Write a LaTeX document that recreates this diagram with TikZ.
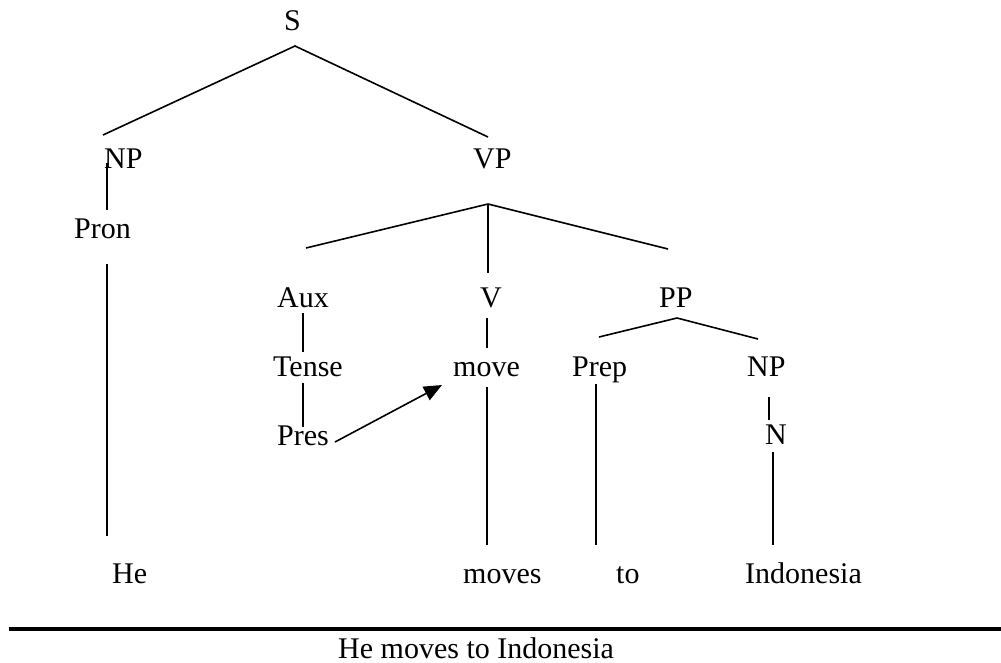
\documentclass[tikz,border=0pt]{standalone}
\usepackage{fontspec}
\setmainfont{Liberation Serif}
\usetikzlibrary{arrows.meta}
\begin{document}
\begin{tikzpicture}[x=1pt,y=-1pt,
  lbl/.style={anchor=base west,inner sep=0pt,font=\fontsize{30}{36}\selectfont},
  branch/.style={line width=1.6pt},
  rule/.style={line width=4pt},
  movearrow/.style={line width=1.6pt,-{Triangle[length=18pt,width=15pt]}}]
\useasboundingbox (0,0) rectangle (1001,662);

% category labels (base west positions)
\node[lbl] (s)     at (284,30)  {S};
\node[lbl] (np)    at (104,168) {NP};
\node[lbl] (vp)    at (473,168) {VP};
\node[lbl] (pron)  at (74,238)  {Pron};
\node[lbl] (aux)   at (277,307) {Aux};
\node[lbl] (v)     at (480,307) {V};
\node[lbl] (pp)    at (659,307) {PP};
\node[lbl] (tense) at (273,376) {Tense};
\node[lbl] (move)  at (453,376) {move};
\node[lbl] (prep)  at (572,376) {Prep};
\node[lbl] (np2)   at (747,376) {NP};
\node[lbl] (pres)  at (277,445) {Pres};
\node[lbl] (n)     at (765,444) {N};

% terminal words
\node[lbl] (he)    at (112,583) {He};
\node[lbl] (moves) at (463,583) {moves};
\node[lbl] (to)    at (616,583) {to};
\node[lbl] (indo)  at (745,583) {Indonesia};

% sentence under the rule
\node[lbl] (sent)  at (338,658) {He moves to Indonesia};

% branch end points
\coordinate (s-f)     at (295,46);
\coordinate (np-t)    at (103,135);
\coordinate (vp-t)    at (488,137);
\coordinate (np-b)    at (107,163);
\coordinate (pron-t)  at (107,210);
\coordinate (pron-b)  at (107,264);
\coordinate (he-t)    at (107,536);
\coordinate (vp-f)    at (488,204);
\coordinate (aux-t)   at (306,248);
\coordinate (v-t)     at (488,273);
\coordinate (pp-t)    at (668,249);
\coordinate (aux-b)   at (303,313);
\coordinate (tense-t) at (303,352);
\coordinate (tense-b) at (303,383);
\coordinate (pres-t)  at (303,427);
\coordinate (v-b)     at (487,318);
\coordinate (move-t)  at (487,348);
\coordinate (move-b)  at (487,387);
\coordinate (moves-t) at (487,545);
\coordinate (pp-f)    at (677,318);
\coordinate (prep-t)  at (599,337);
\coordinate (np2-t)   at (758,339);
\coordinate (prep-b)  at (596,384);
\coordinate (to-t)    at (596,545);
\coordinate (np2-b)   at (769,397);
\coordinate (n-t)     at (769,420);
\coordinate (n-b)     at (773,452);
\coordinate (indo-t)  at (773,545);
\coordinate (pres-e)  at (335,442);
\coordinate (move-w)  at (442,385);
\coordinate (rule-l)  at (9,629);
\coordinate (rule-r)  at (1001,629);

% tree branches
\draw[branch] (np-t) -- (s-f) -- (vp-t);
\draw[branch] (np-b) -- (pron-t);
\draw[branch] (pron-b) -- (he-t);
\draw[branch] (aux-t) -- (vp-f) -- (pp-t);
\draw[branch] (vp-f) -- (v-t);
\draw[branch] (aux-b) -- (tense-t);
\draw[branch] (tense-b) -- (pres-t);
\draw[branch] (v-b) -- (move-t);
\draw[branch] (move-b) -- (moves-t);
\draw[branch] (prep-t) -- (pp-f) -- (np2-t);
\draw[branch] (prep-b) -- (to-t);
\draw[branch] (np2-b) -- (n-t);
\draw[branch] (n-b) -- (indo-t);

% tense hopping onto the verb
\draw[movearrow] (pres-e) -- (move-w);

% rule above the sentence
\draw[rule] (rule-l) -- (rule-r);
\end{tikzpicture}
\end{document}
